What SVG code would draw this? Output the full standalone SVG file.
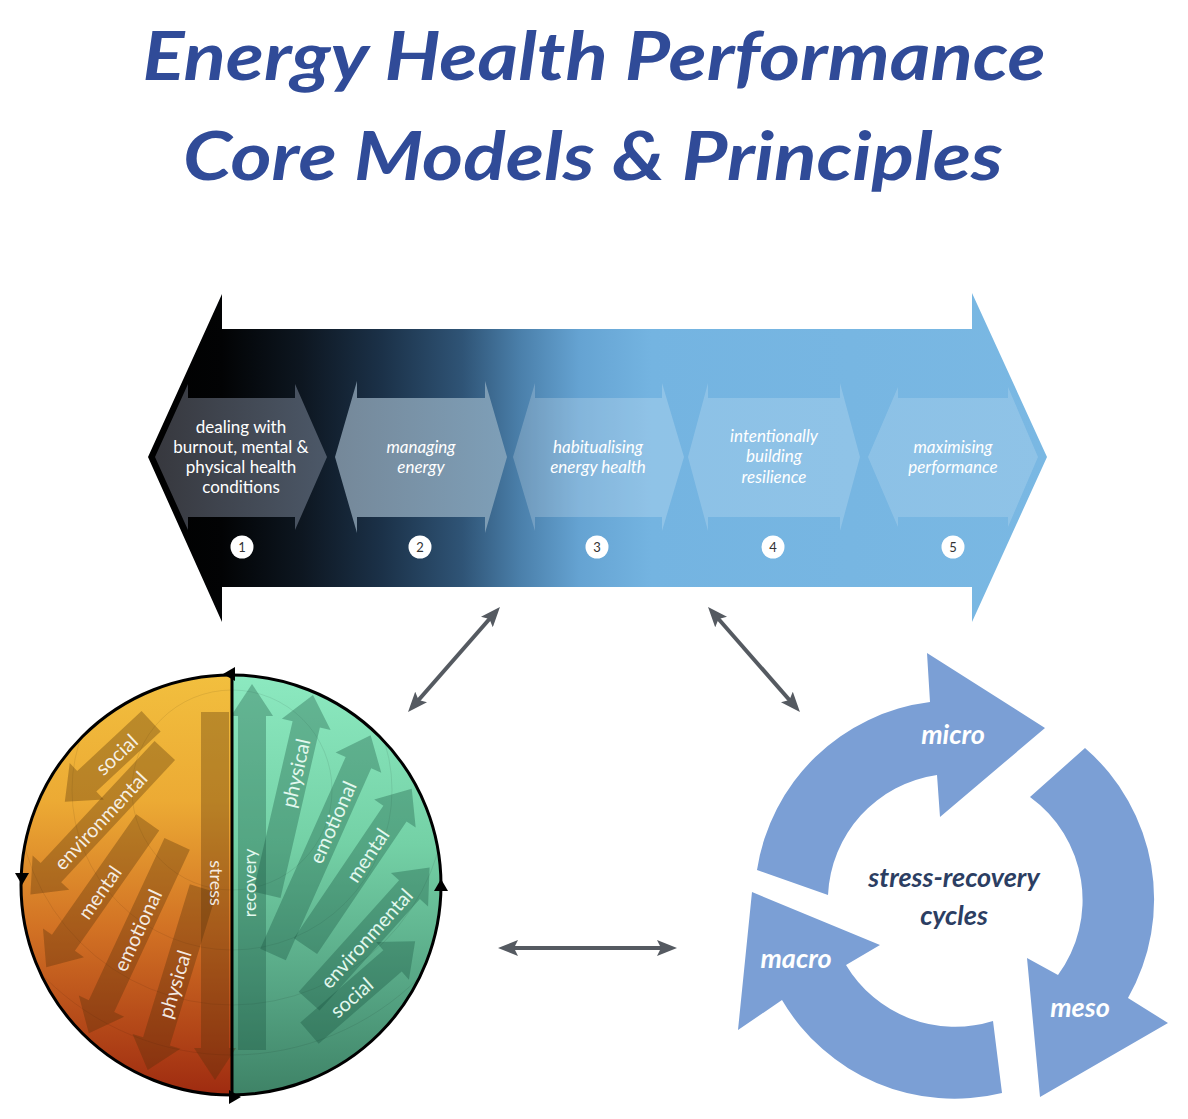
<svg xmlns="http://www.w3.org/2000/svg" width="1188" height="1119" viewBox="0 0 1188 1119">
<style>
.title{font-family:Lato,"Liberation Sans",sans-serif;font-weight:700;font-style:italic;font-size:66px;fill:#304b98;text-anchor:middle}
.ct{font-family:Lato,"Liberation Sans",sans-serif;font-size:17px;fill:#ffffff;text-anchor:middle}
.it{font-style:italic}
.num{font-family:Lato,"Liberation Sans",sans-serif;font-size:13px;fill:#333;text-anchor:middle}
.lt{font-family:Lato,"Liberation Sans",sans-serif;font-size:20px;fill:#fff;fill-opacity:0.88;text-anchor:middle;dominant-baseline:central}
.rt{font-family:Lato,"Liberation Sans",sans-serif;font-size:20px;fill:#e2f8ee;text-anchor:middle;dominant-baseline:central}
.la{fill:#502d0a;fill-opacity:0.33}
.ra{fill:#14503c;fill-opacity:0.33}
.cyc{fill:#7b9fd5}
.cl{font-family:Lato,"Liberation Sans",sans-serif;font-weight:700;font-style:italic;font-size:27px;fill:#fff;text-anchor:middle}
.cc{font-family:Lato,"Liberation Sans",sans-serif;font-weight:700;font-style:italic;font-size:27px;fill:#2c3e62;text-anchor:middle}
.conn{stroke:#555a61;stroke-width:4;fill:none;marker-start:url(#ah);marker-end:url(#ah)}
.ring{fill:none;stroke:#000;stroke-opacity:0.08;stroke-width:1}
</style>
<defs>
<linearGradient id="bg" gradientUnits="userSpaceOnUse" x1="148" y1="0" x2="1047" y2="0">
<stop offset="0" stop-color="#000"/>
<stop offset="0.082" stop-color="#020304"/>
<stop offset="0.17" stop-color="#0d1620"/>
<stop offset="0.26" stop-color="#1b3148"/>
<stop offset="0.35" stop-color="#2f5476"/>
<stop offset="0.415" stop-color="#4b80ab"/>
<stop offset="0.48" stop-color="#65a3d2"/>
<stop offset="0.56" stop-color="#74b4e1"/>
<stop offset="1" stop-color="#7ab8e3"/>
</linearGradient>
<linearGradient id="c1" x1="0" y1="0" x2="1" y2="0">
<stop offset="0" stop-color="#37383e"/>
<stop offset="1" stop-color="#4c5868"/>
</linearGradient>
<linearGradient id="c2" x1="0" y1="0" x2="1" y2="0">
<stop offset="0" stop-color="#758899"/>
<stop offset="1" stop-color="#7e9fb8"/>
</linearGradient>
<linearGradient id="og" x1="0" y1="675" x2="0" y2="1097" gradientUnits="userSpaceOnUse">
<stop offset="0" stop-color="#f2bf3e"/>
<stop offset="0.3" stop-color="#ecaa34"/>
<stop offset="0.6" stop-color="#d27224"/>
<stop offset="1" stop-color="#9e2a10"/>
</linearGradient>
<linearGradient id="gg" x1="0" y1="675" x2="0" y2="1097" gradientUnits="userSpaceOnUse">
<stop offset="0" stop-color="#8ce9c0"/>
<stop offset="0.4" stop-color="#74d1a6"/>
<stop offset="0.75" stop-color="#55a483"/>
<stop offset="1" stop-color="#3e8266"/>
</linearGradient>
<clipPath id="circ"><circle cx="231" cy="885" r="210"/></clipPath>
<marker id="ah" viewBox="0 0 20 16" refX="14" refY="8" markerWidth="20" markerHeight="16" markerUnits="userSpaceOnUse" orient="auto-start-reverse">
<path d="M0,0 L20,8 L0,16 L4,8 Z" fill="#555a61"/>
</marker>
</defs>
<rect width="1188" height="1119" fill="#fff"/>

<g id="title">
<text class="title" x="594" y="80" textLength="903" lengthAdjust="spacingAndGlyphs">Energy Health Performance</text>
<text class="title" x="593" y="180" textLength="820" lengthAdjust="spacingAndGlyphs">Core Models &amp; Principles</text>
</g>

<g id="spectrum">
<path d="M148,457 L222,294 L222,329 L972,329 L972,293 L1047,457 L972,622 L972,587 L222,587 L222,622 Z" fill="url(#bg)"/>
<g id="stage1">
<polygon points="155,457 188,384 188,398 295,398 295,384 327,457 295,530 295,517 188,517 188,530" fill="url(#c1)"/>
<text class="ct" x="241" y="433">dealing with</text>
<text class="ct" x="241" y="453">burnout, mental &amp;</text>
<text class="ct" x="241" y="473">physical health</text>
<text class="ct" x="241" y="493">conditions</text>
<circle cx="242" cy="547" r="11.5" fill="#fff"/>
<text class="num" x="242" y="551.5">1</text>
</g>
<g id="stage2">
<polygon points="335,457 357,381 357,398 485,398 485,381 507,457 485,533 485,517 357,517 357,533" fill="url(#c2)"/>
<text class="ct it" x="421" y="453">managing</text>
<text class="ct it" x="421" y="473">energy</text>
<circle cx="420" cy="547" r="11.5" fill="#fff"/>
<text class="num" x="420" y="551.5">2</text>
</g>
<g id="stage3">
<polygon points="513,457 535,383 535,398 662,398 662,383 684,457 662,531 662,517 535,517 535,531" fill="#fff" fill-opacity="0.2"/>
<text class="ct it" x="598" y="453">habitualising</text>
<text class="ct it" x="598" y="473">energy health</text>
<circle cx="597" cy="547" r="11.5" fill="#fff"/>
<text class="num" x="597" y="551.5">3</text>
</g>
<g id="stage4">
<polygon points="688,457 708,383 708,398 840,398 840,383 860,457 840,531 840,517 708,517 708,531" fill="#fff" fill-opacity="0.18"/>
<text class="ct it" x="774" y="442">intentionally</text>
<text class="ct it" x="774" y="462">building</text>
<text class="ct it" x="774" y="483">resilience</text>
<circle cx="773" cy="547" r="11.5" fill="#fff"/>
<text class="num" x="773" y="551.5">4</text>
</g>
<g id="stage5">
<polygon points="868,457 898,387 898,398 1008,398 1008,387 1038,457 1008,527 1008,517 898,517 898,527" fill="#fff" fill-opacity="0.16"/>
<text class="ct it" x="953" y="453">maximising</text>
<text class="ct it" x="953" y="473">performance</text>
<circle cx="953" cy="547" r="11.5" fill="#fff"/>
<text class="num" x="953" y="551.5">5</text>
</g>
</g>

<g id="stress-recovery-circle">
<g clip-path="url(#circ)">
<rect x="18" y="670" width="214" height="430" fill="url(#og)"/>
<rect x="232" y="670" width="214" height="430" fill="url(#gg)"/>
<circle class="ring" cx="232" cy="790" r="100"/>
<circle class="ring" cx="232" cy="790" r="160"/>
<circle class="ring" cx="232" cy="790" r="215"/>
<circle class="ring" cx="232" cy="790" r="265"/>
<polygon class="la" points="201,712 229,712 229,1048 236,1048 215,1080 194,1048 201,1048"/>
<polygon class="ra" points="238,1050 266,1050 266,716 273,716 252,684 231,716 238,716"/>
<g transform="translate(116,754) rotate(-43)"><polygon class="la" points="48,-14 -40,-14 -40,-25 -70,0 -40,25 -40,14 48,14"/></g>
<g transform="translate(100,820) rotate(-47)"><polygon class="la" points="95,-14 -72,-14 -72,-25 -102,0 -72,25 -72,14 95,14"/></g>
<g transform="translate(99,892) rotate(-55)"><polygon class="la" points="85,-14 -62,-14 -62,-25 -92,0 -62,25 -62,14 85,14"/></g>
<g transform="translate(137,930) rotate(-65)"><polygon class="la" points="95,-14 -84,-14 -84,-25 -114,0 -84,25 -84,14 95,14"/></g>
<g transform="translate(174,984) rotate(-73)"><polygon class="la" points="100,-14 -60,-14 -60,-25 -90,0 -60,25 -60,14 100,14"/></g>
<g transform="translate(295,773) rotate(-77)"><polygon class="ra" points="-125,-14 50,-14 50,-25 80,0 50,25 50,14 -125,14"/></g>
<g transform="translate(332,822) rotate(-66)"><polygon class="ra" points="-145,-14 65,-14 65,-25 95,0 65,25 65,14 -145,14"/></g>
<g transform="translate(367,855) rotate(-56)"><polygon class="ra" points="-110,-14 50,-14 50,-25 80,0 50,25 50,14 -110,14"/></g>
<g transform="translate(366,938) rotate(-48)"><polygon class="ra" points="-85,-14 65,-14 65,-25 95,0 65,25 65,14 -85,14"/></g>
<g transform="translate(351,997) rotate(-41)"><polygon class="ra" points="-55,-14 55,-14 55,-25 85,0 55,25 55,14 -55,14"/></g>
</g>
<circle cx="231" cy="885" r="210" fill="none" stroke="#000" stroke-width="3"/>
<line x1="232" y1="674" x2="232" y2="1096" stroke="#000" stroke-width="3"/>
<polygon points="223,674 235,667 235,681" fill="#000"/>
<polygon points="15,873 29,873 22,885" fill="#000"/>
<polygon points="229,1090 241,1097 229,1104" fill="#000"/>
<polygon points="434,891 448,891 441,879" fill="#000"/>
<text class="lt" transform="translate(217,883) rotate(90)" style="font-size:18px">stress</text>
<text class="rt" transform="translate(249,883) rotate(-90)" style="font-size:18px">recovery</text>
<text class="lt" transform="translate(116,754) rotate(-43)">social</text>
<text class="lt" transform="translate(100,820) rotate(-47)">environmental</text>
<text class="lt" transform="translate(99,892) rotate(-55)">mental</text>
<text class="lt" transform="translate(137,930) rotate(-65)">emotional</text>
<text class="lt" transform="translate(174,984) rotate(-73)">physical</text>
<text class="rt" transform="translate(295,773) rotate(-77)">physical</text>
<text class="rt" transform="translate(332,822) rotate(-66)">emotional</text>
<text class="rt" transform="translate(367,855) rotate(-56)">mental</text>
<text class="rt" transform="translate(366,938) rotate(-48)">environmental</text>
<text class="rt" transform="translate(351,997) rotate(-41)">social</text>
</g>

<g id="cycles">
<g id="micro">
<path class="cyc" d="M757,870 A200,200 0 0 1 930,702 L927,653 L1045,728 L940,817 L937,775 A127,127 0 0 0 828,895 Z"/>
<text class="cl" x="953" y="744">micro</text>
</g>
<g id="meso">
<path class="cyc" d="M1085,748 A200,200 0 0 1 1128,998 L1168,1023 L1040,1097 L1027,958 L1058,975 A127,127 0 0 0 1030,797 Z"/>
<text class="cl" x="1080" y="1017">meso</text>
</g>
<g id="macro">
<path class="cyc" d="M1002,1093 A200,200 0 0 1 782,1000 L738,1030 L752,892 L880,945 L846,965 A127,127 0 0 0 993,1021 Z"/>
<text class="cl" x="796" y="968">macro</text>
</g>
<text class="cc" x="954" y="887">stress-recovery</text>
<text class="cc" x="954" y="925">cycles</text>
</g>

<g id="connectors">
<line class="conn" x1="496" y1="611.5" x2="412" y2="707.5"/>
<line class="conn" x1="712" y1="611.5" x2="796" y2="707.5"/>
<line class="conn" x1="504" y1="948" x2="671" y2="948"/>
</g>
</svg>
